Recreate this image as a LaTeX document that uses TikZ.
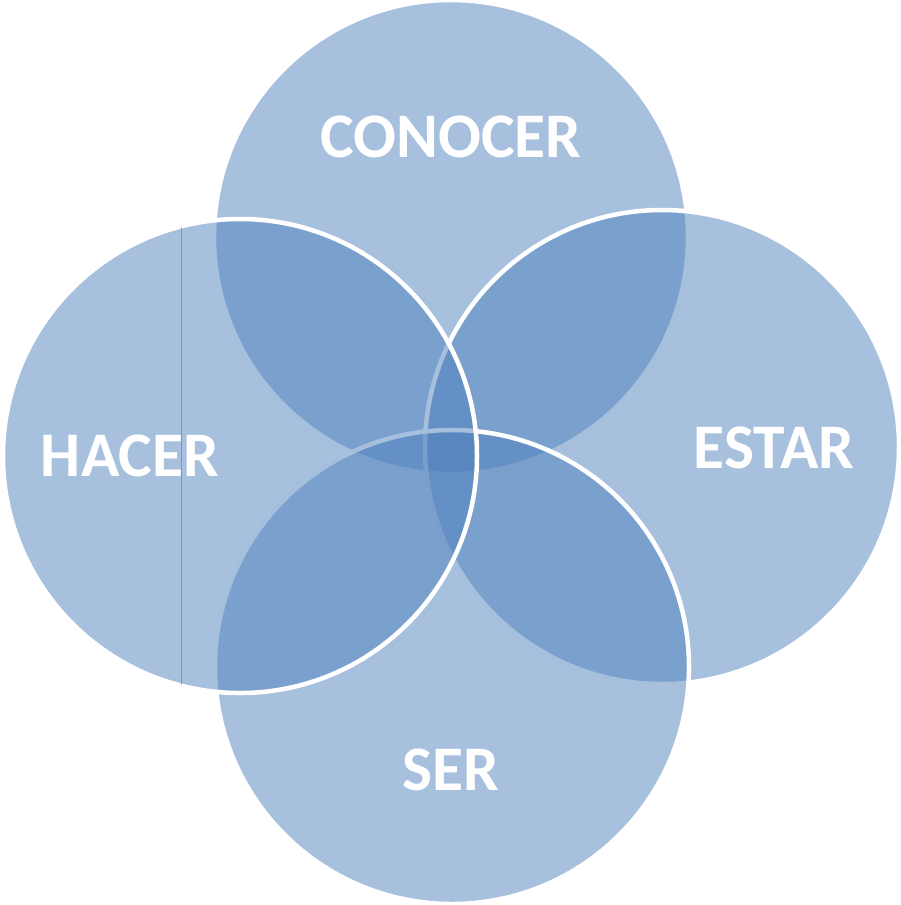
\documentclass[tikz,border=0pt]{standalone}
\usepackage{fontspec}
\setmainfont{Carlito}
\definecolor{vennblue}{RGB}{79,129,189}
\tikzset{
  venn/.style={fill=vennblue, fill opacity=0.5, draw=white, line width=4.5pt},
  chord/.style={draw=vennblue, draw opacity=0.6, line width=1pt},
  lbl/.style={text=white, font=\fontsize{63.5}{70}\selectfont\bfseries, inner sep=0pt}
}
\begin{document}
\begin{tikzpicture}[x=1pt,y=-1pt]
	%%%%% START %%%%%
	\useasboundingbox (0,0) rectangle (900,905);
	
	% circles, back to front
	\draw[venn] (451,237) circle (237pt);
	\draw[venn] (662,447) circle (237pt);
	\draw[venn] (452,667) circle (237pt);
	\draw[venn] (240,456) circle (237pt);
	
	% thin chord in the left circle
	\begin{scope}
		\clip (240,456) circle (236pt);
		\draw[chord] (181,0) -- (181,905);
	\end{scope}
	
	% labels
	\node[lbl] (conocer) at (451,137) {CONOCER};
	\node[lbl] (hacer) at (130,456) {HACER};
	\node[lbl] (estar) at (774,448) {ESTAR};
	\node[lbl] (ser) at (451,770) {SER};
	
	%%%%% END %%%%%
\end{tikzpicture}
\end{document}
